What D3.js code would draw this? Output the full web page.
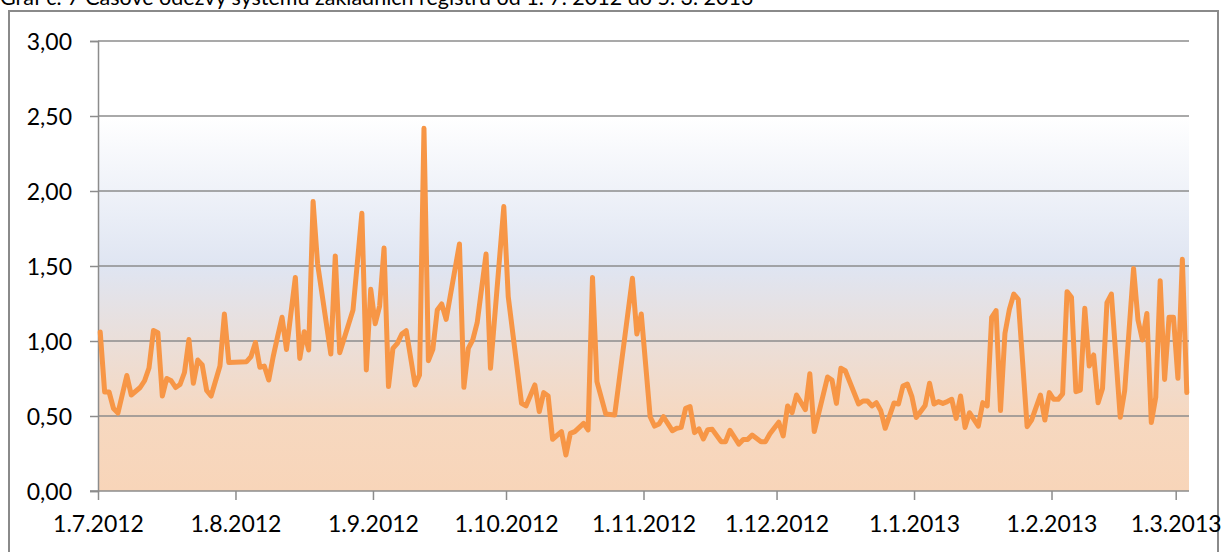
<!DOCTYPE html>
<html>
    <head>
        <meta charset="utf-8">
        <style>
            body {
                margin: 0;
                background: white;
                font-family: Lato, sans-serif;
            }
            svg {
                display: block;
            }
            .grid line {
                stroke: #8c8c8c;
                stroke-width: 1.5;
            }
            .axis path, .axis line {
                stroke: #8c8c8c;
                stroke-width: 1.5;
            }
            .axis text {
                font-family: Lato, sans-serif;
                font-size: 23px;
                fill: #000;
            }
        </style>
    </head>
    <body>
        <script src="https://d3js.org/d3.v7.min.js"></script>
        <script>
            // data (date, response time)
            var dates = [
                "2012-07-01","2012-07-02","2012-07-03","2012-07-04","2012-07-05","2012-07-07","2012-07-08","2012-07-10",
                "2012-07-11","2012-07-12","2012-07-13","2012-07-14","2012-07-15","2012-07-16","2012-07-17","2012-07-18",
                "2012-07-19","2012-07-20","2012-07-21","2012-07-22","2012-07-23","2012-07-24","2012-07-25","2012-07-26",
                "2012-07-28","2012-07-29","2012-07-30","2012-08-03","2012-08-04","2012-08-05","2012-08-06","2012-08-07",
                "2012-08-08","2012-08-09","2012-08-10","2012-08-11","2012-08-12","2012-08-14","2012-08-15","2012-08-16",
                "2012-08-17","2012-08-18","2012-08-19","2012-08-22","2012-08-23","2012-08-24","2012-08-27","2012-08-29",
                "2012-08-30","2012-08-31","2012-09-01","2012-09-02","2012-09-03","2012-09-04","2012-09-05","2012-09-06",
                "2012-09-07","2012-09-08","2012-09-10","2012-09-11","2012-09-12","2012-09-13","2012-09-14","2012-09-15",
                "2012-09-16","2012-09-17","2012-09-20","2012-09-21","2012-09-22","2012-09-23","2012-09-24","2012-09-26",
                "2012-09-27","2012-09-30","2012-10-01","2012-10-04","2012-10-05","2012-10-07","2012-10-08","2012-10-09",
                "2012-10-10","2012-10-11","2012-10-13","2012-10-14","2012-10-15","2012-10-16","2012-10-18","2012-10-19",
                "2012-10-20","2012-10-21","2012-10-23","2012-10-25","2012-10-29","2012-10-30","2012-10-31","2012-11-02",
                "2012-11-03","2012-11-04","2012-11-05","2012-11-07","2012-11-08","2012-11-09","2012-11-10","2012-11-11",
                "2012-11-12","2012-11-13","2012-11-14","2012-11-15","2012-11-16","2012-11-18","2012-11-19","2012-11-20",
                "2012-11-22","2012-11-23","2012-11-24","2012-11-25","2012-11-27","2012-11-28","2012-11-29","2012-12-01",
                "2012-12-02","2012-12-03","2012-12-04","2012-12-05","2012-12-07","2012-12-08","2012-12-09","2012-12-12",
                "2012-12-13","2012-12-14","2012-12-15","2012-12-16","2012-12-19","2012-12-20","2012-12-21","2012-12-22",
                "2012-12-23","2012-12-24","2012-12-25","2012-12-27","2012-12-28","2012-12-29","2012-12-30","2012-12-31",
                "2013-01-01","2013-01-03","2013-01-04","2013-01-05","2013-01-06","2013-01-07","2013-01-08","2013-01-09",
                "2013-01-10","2013-01-11","2013-01-12","2013-01-13","2013-01-15","2013-01-16","2013-01-17","2013-01-18",
                "2013-01-19","2013-01-20","2013-01-21","2013-01-22","2013-01-23","2013-01-24","2013-01-26","2013-01-27",
                "2013-01-29","2013-01-30","2013-01-31","2013-02-01","2013-02-02","2013-02-03","2013-02-04","2013-02-05",
                "2013-02-06","2013-02-07","2013-02-08","2013-02-09","2013-02-10","2013-02-11","2013-02-12","2013-02-13",
                "2013-02-14","2013-02-16","2013-02-17","2013-02-19","2013-02-20","2013-02-21","2013-02-22","2013-02-23",
                "2013-02-24","2013-02-25","2013-02-26","2013-02-27","2013-02-28","2013-03-01","2013-03-02","2013-03-03"
            ];
            var values = [
                1.06,0.66,0.66,0.55,0.52,0.77,0.64,0.69,
                0.735,0.82,1.07,1.055,0.633,0.75,0.735,0.69,
                0.71,0.79,1.01,0.718,0.873,0.84,0.67,0.633,
                0.833,1.18,0.856,0.862,0.896,0.99,0.825,0.833,
                0.74,0.896,1.03,1.158,0.944,1.424,0.884,1.062,
                0.94,1.93,1.518,0.913,1.567,0.922,1.207,1.851,
                0.807,1.345,1.115,1.233,1.62,0.696,0.951,0.984,
                1.047,1.069,0.707,0.773,2.418,0.869,0.944,1.207,
                1.247,1.144,1.647,0.691,0.951,1.007,1.122,1.58,
                0.818,1.896,1.296,0.584,0.567,0.707,0.529,0.656,
                0.633,0.345,0.396,0.24,0.384,0.396,0.451,0.407,
                1.424,0.729,0.513,0.507,1.418,1.047,1.18,0.495,
                0.433,0.447,0.495,0.402,0.418,0.424,0.551,0.562,
                0.389,0.414,0.347,0.409,0.411,0.329,0.329,0.405,
                0.313,0.344,0.344,0.373,0.329,0.329,0.382,0.459,
                0.367,0.567,0.522,0.64,0.542,0.782,0.396,0.76,
                0.74,0.584,0.818,0.802,0.58,0.6,0.6,0.567,
                0.589,0.535,0.418,0.587,0.58,0.7,0.713,0.631,
                0.49,0.57,0.718,0.58,0.596,0.584,0.596,0.611,
                0.484,0.633,0.424,0.522,0.433,0.589,0.567,1.158,
                1.202,0.536,1.051,1.211,1.313,1.278,0.429,0.473,
                0.64,0.473,0.656,0.611,0.611,0.647,1.329,1.291,
                0.662,0.673,1.218,0.833,0.907,0.589,0.684,1.256,
                1.313,0.491,0.669,1.484,1.14,1.007,1.184,0.456,
                0.624,1.402,0.744,1.158,1.158,0.751,1.545,0.656
            ];
            var yTicks = [0, 0.5, 1, 1.5, 2, 2.5, 3];
            var xStart = "2012-07-01", xEnd = "2013-03-04";
            var title = "Graf č. 7 Časové odezvy systému základních registrů od 1. 7. 2012 do 5. 3. 2013";

            var W = 1222, H = 552;
            var margin = {top: 41, right: 33, bottom: 61, left: 98};
            var width = W - margin.left - margin.right,
                height = H - margin.top - margin.bottom;

            var parse = d3.timeParse("%Y-%m-%d");
            var data = dates.map(function(d, i){ return {date: parse(d), value: values[i]}; });

            var svg = d3.select("body").append("svg")
                .attr("width", W)
                .attr("height", H);

            // outer frame of the chart
            svg.append("rect")
                .attr("x", 9).attr("y", 11)
                .attr("width", 1209).attr("height", 560)
                .attr("fill", "white")
                .attr("stroke", "#8a8a8a")
                .attr("stroke-width", 2);

            // title (cut off at top in the source)
            svg.append("text")
                .attr("x", 0).attr("y", 5)
                .attr("font-size", 21.5)
                .attr("fill", "#000")
                .text(title);

            // plot area gradient
            var grad = svg.append("defs").append("linearGradient")
                .attr("id", "bg").attr("x1", 0).attr("y1", 0).attr("x2", 0).attr("y2", 1);
            grad.append("stop").attr("offset", 0).attr("stop-color", "#ffffff");
            grad.append("stop").attr("offset", 0.167).attr("stop-color", "#ffffff");
            grad.append("stop").attr("offset", 0.5).attr("stop-color", "#dfe5f2");
            grad.append("stop").attr("offset", 0.833).attr("stop-color", "#f6d8c0");
            grad.append("stop").attr("offset", 1).attr("stop-color", "#f8d5b9");

            var g = svg.append("g")
                .attr("transform", "translate(" + margin.left + "," + margin.top + ")");

            g.append("rect")
                .attr("width", width).attr("height", height)
                .attr("fill", "url(#bg)");

            // scales
            var x = d3.scaleTime()
                .domain([parse(xStart), parse(xEnd)])
                .range([0, width]);
            var y = d3.scaleLinear()
                .domain([0, 3])
                .range([height, 0]);

            var cz = d3.formatLocale({decimal: ",", thousands: " ", grouping: [3], currency: ["", " Kč"]});

            // gridlines
            g.append("g")
                .attr("class", "grid")
                .selectAll("line")
                .data(yTicks.filter(function(d){ return d > 0; }))
                .enter().append("line")
                .attr("x1", 0).attr("x2", width)
                .attr("y1", function(d){ return y(d); })
                .attr("y2", function(d){ return y(d); });

            // y axis
            var yAxis = g.append("g")
                .attr("class", "axis")
                .call(d3.axisLeft(y).tickValues(yTicks).tickSize(8).tickPadding(18).tickFormat(cz.format(".2f")));
            yAxis.selectAll("text").attr("dy", "0.36em");

            // x axis
            var xAxis = g.append("g")
                .attr("class", "axis")
                .attr("transform", "translate(0," + height + ")")
                .call(d3.axisBottom(x)
                    .tickValues(d3.timeMonth.range(parse(xStart), parse(xEnd)))
                    .tickSize(9).tickPadding(16)
                    .tickFormat(d3.timeFormat("%-d.%-m.%Y")));
            xAxis.select(".domain").attr("d", "M-8,0H" + width);

            // line, points sit in the middle of their day
            var line = d3.line()
                .x(function(d){ return x(d3.timeHour.offset(d.date, 12)); })
                .y(function(d){ return y(d.value); });

            g.append("path")
                .datum(data)
                .attr("fill", "none")
                .attr("stroke", "#f79646")
                .attr("stroke-width", 5)
                .attr("stroke-linejoin", "round")
                .attr("stroke-linecap", "round")
                .attr("d", line);
        </script>
    </body>
</html>
